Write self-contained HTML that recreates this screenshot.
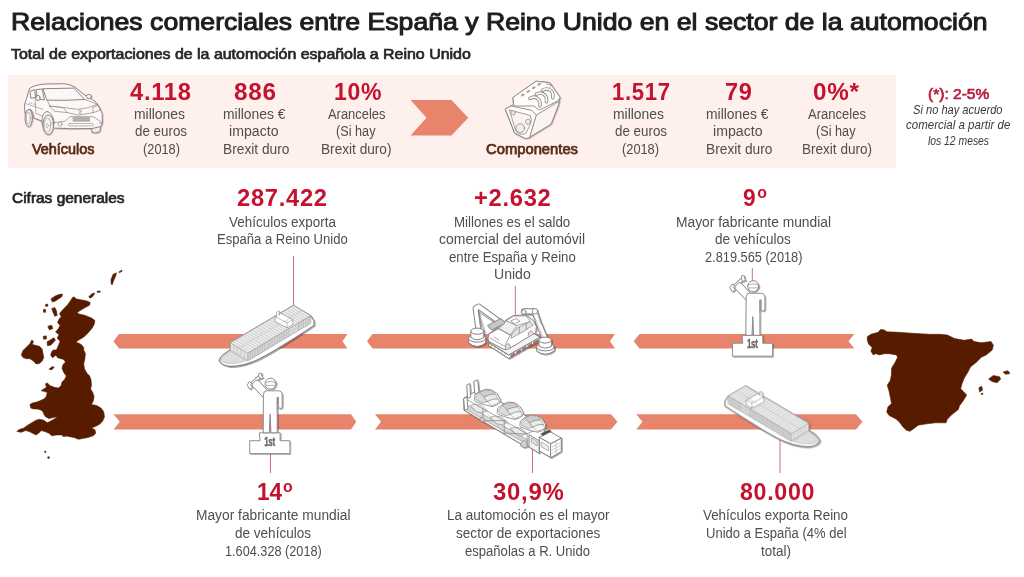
<!DOCTYPE html>
<html lang="es"><head><meta charset="utf-8">
<title>Relaciones comerciales España - Reino Unido</title>
<style>
html,body{margin:0;padding:0;background:#fff}
body{width:1024px;height:577px;position:relative;overflow:hidden;font-family:"Liberation Sans",sans-serif}
#band{position:absolute;left:7.5px;top:74.5px;width:888.5px;height:93px;background:#fef0ec}
#gfx{position:absolute;left:0;top:0;width:1024px;height:577px}
.t{position:absolute;white-space:nowrap;line-height:1;transform-origin:0 0;margin:0}
.T{font-weight:normal;color:#1d1d1b;-webkit-text-stroke:1px #1d1d1b}
.S{font-weight:normal;color:#262626;-webkit-text-stroke:0.7px #262626}
.L{font-weight:normal;color:#5b2c17;-webkit-text-stroke:0.75px #5b2c17}
.N{font-weight:bold;color:#c4122f}
.R{font-weight:normal;color:#b8213f;-webkit-text-stroke:0.7px #b8213f}
.B{color:#4e4e4d}
.I{font-style:italic;color:#3a3a3a}
</style></head><body>
<div id="band"></div>
<svg id="gfx" viewBox="0 0 1024 577" width="1024" height="577">
<g fill="#e8846b">
<polygon points="113.5,341.3 119,334.0 347.5,334.0 342.5,341.3 347.5,348.6 119,348.6"/>
<polygon points="367,341.3 372.5,334.0 615,334.0 610,341.3 615,348.6 372.5,348.6"/>
<polygon points="633.75,341.3 639.5,334.0 854.25,334.0 848.5,341.3 854.25,348.6 639.5,348.6"/>
<polygon points="113.5,414.2 351,414.2 356.25,421.85 351,429.5 113.5,429.5 119.75,421.85"/>
<polygon points="375,414.2 611,414.2 617.5,421.85 611,429.5 375,429.5 381,421.85"/>
<polygon points="636.25,414.2 856,414.2 862.5,421.85 856,429.5 636.25,429.5 642.5,421.85"/>
<polygon points="410.5,100 451.5,100 468.2,117.8 451.5,135.6 410.5,135.6 426.5,117.8"/>
</g>
<g stroke="#cc727c" stroke-width="1" fill="none">
<line x1="293.5" y1="256" x2="293.5" y2="306"/>
<line x1="515.3" y1="286" x2="515.3" y2="314.5"/>
<line x1="752.3" y1="268" x2="752.3" y2="281"/>
<line x1="270.5" y1="454" x2="270.5" y2="473"/>
<line x1="532.5" y1="449" x2="532.5" y2="473"/>
<line x1="780" y1="440" x2="780" y2="473"/>
</g>
<g fill="#571c00" stroke="#571c00" stroke-width="0.6" stroke-linejoin="round">
<path d="M867.3,336.7 L870.9,334.3 L878.2,332.3 L880.6,329.4 L884.3,329.9 L886.7,331.8 L898.8,332.3 L908.5,333.0 L920.7,333.8 L930.4,334.3 L940.1,334.3 L947.3,335.0 L954.6,338.6 L964.3,340.3 L971.6,339.1 L974.0,341.5 L981.3,342.8 L991.0,341.5 L993.4,345.2 L992.2,350.0 L986.2,354.9 L981.3,357.3 L976.4,362.2 L970.4,367.0 L968.0,371.9 L964.3,377.9 L961.9,384.0 L960.7,388.8 L964.3,392.5 L966.7,394.9 L963.1,401.0 L959.5,405.8 L958.3,409.5 L952.2,414.3 L947.3,419.2 L946.1,422.8 L935.2,422.8 L925.5,424.0 L918.2,425.2 L913.4,428.9 L909.7,431.3 L906.1,430.1 L902.5,426.4 L900.0,422.8 L896.4,419.2 L889.1,415.5 L886.7,411.9 L887.9,407.0 L891.5,403.4 L890.3,397.3 L889.1,391.3 L887.2,385.2 L890.3,380.4 L891.5,374.3 L891.5,368.2 L895.2,362.2 L897.6,357.3 L896.4,354.9 L889.1,353.7 L884.3,353.7 L879.4,354.9 L875.8,353.7 L873.3,354.9 L870.9,351.2 L872.1,347.6 L868.5,344.0 L867.3,340.3Z"/>
<path d="M988.6,379.1 L993.4,375.5 L999.5,376.7 L1000.7,379.1 L997.1,382.8 L992.2,381.6Z"/>
<path d="M1003.1,371.9 L1008.0,370.7 L1009.9,373.6 L1005.6,374.3Z"/>
<path d="M978.9,387.6 L981.8,386.4 L982.5,390.1 L979.6,392.0Z"/>
<path d="M981.3,393.2 L982.8,393.2 L982.8,394.4 L981.3,394.4Z"/>
<path d="M73.5,296.7 L76.7,299.0 L80.9,299.8 L86.8,300.9 L90.2,302.4 L89.6,305.2 L85.2,307.6 L80.6,310.2 L77.1,312.4 L79.0,314.0 L85.2,315.4 L91.5,318.0 L94.9,320.5 L94.3,324.0 L92.3,327.9 L88.4,332.5 L84.5,336.4 L80.9,338.8 L77.8,340.5 L76.2,342.4 L79.0,343.3 L81.8,345.0 L83.7,347.4 L83.7,350.0 L85.4,353.5 L84.9,358.7 L83.7,363.9 L84.5,369.1 L87.1,373.4 L89.7,376.0 L91.1,380.3 L91.5,385.5 L90.6,389.0 L92.8,392.5 L94.1,396.8 L93.2,401.1 L91.5,404.6 L96.7,405.5 L101.0,408.1 L103.6,411.5 L104.5,416.7 L102.7,421.1 L99.3,424.5 L95.8,426.3 L91.5,428.0 L94.9,429.7 L95.8,433.2 L93.2,435.8 L88.0,437.5 L82.8,438.4 L78.5,439.3 L74.1,437.5 L69.8,436.7 L65.5,435.8 L62.0,434.9 L56.8,434.9 L51.6,435.8 L49.0,433.2 L44.7,431.5 L41.2,430.6 L38.6,433.2 L36.0,434.9 L32.5,433.2 L29.1,431.5 L25.6,430.6 L21.3,432.3 L16.9,431.5 L18.7,429.7 L23.9,428.0 L27.3,425.4 L31.7,422.8 L36.0,420.2 L39.5,419.3 L43.8,420.2 L47.3,422.8 L50.7,421.1 L55.1,418.5 L57.7,416.7 L53.3,417.6 L49.0,418.5 L45.5,416.7 L43.8,414.1 L42.9,411.5 L40.3,409.8 L36.9,408.9 L33.4,408.9 L30.8,408.1 L29.9,404.6 L32.5,402.9 L36.9,402.0 L41.2,400.3 L44.7,398.5 L46.4,395.9 L47.3,392.5 L44.7,391.6 L41.2,390.7 L43.8,389.0 L46.4,387.3 L45.5,383.8 L47.3,382.9 L49.9,385.5 L54.2,387.3 L58.5,388.1 L61.1,385.5 L62.0,382.1 L64.6,379.5 L66.3,376.0 L63.7,372.5 L62.0,368.2 L62.9,364.7 L65.5,362.1 L63.7,359.5 L61.1,358.7 L57.7,357.8 L55.9,355.2 L52.5,357.8 L50.7,355.2 L51.6,351.7 L53.3,350.0 L56.4,350.0 L58.4,345.5 L60.0,341.4 L57.2,338.0 L59.0,334.6 L55.6,332.1 L58.4,328.6 L60.0,325.5 L57.5,322.4 L59.0,319.3 L61.2,316.5 L59.5,313.8 L61.8,310.7 L65.0,307.6 L67.8,304.5 L70.4,300.9 L72.0,298.2Z"/>
<path d="M21.3,354.9 L23.0,350.6 L26.5,347.1 L29.9,343.7 L31.7,340.2 L33.4,341.1 L32.5,344.5 L36.0,345.4 L39.5,346.3 L42.1,348.9 L42.9,353.2 L43.8,357.5 L42.1,361.0 L39.5,363.6 L36.0,363.9 L33.4,361.0 L29.9,358.7 L26.5,358.7 L23.0,357.5Z"/>
<path d="M50.9,299.0 L54.8,296.2 L58.7,294.6 L62.6,294.0 L61.8,296.7 L58.4,299.0 L55.6,300.9 L52.5,302.1Z"/>
<path d="M45.5,304.5 L47.8,304.1 L47.8,306.3 L45.6,306.3Z"/>
<path d="M43.4,309.6 L45.5,309.3 L45.6,312.3 L43.6,312.3Z"/>
<path d="M51.7,308.4 L54.8,307.6 L56.4,310.7 L57.2,315.4 L54.8,316.2 L53.3,313.0Z"/>
<path d="M47.8,326.3 L51.7,325.2 L52.8,328.6 L49.4,329.9Z"/>
<path d="M43.1,336.4 L46.2,335.8 L46.6,338.8 L43.7,339.3Z"/>
<path d="M47.0,341.9 L54.0,337.7 L55.3,340.3 L50.9,345.0 L47.5,345.8Z"/>
<path d="M88.7,296.7 L92.3,293.5 L94.9,293.1 L93.0,296.2 L90.2,298.2Z"/>
<path d="M97.1,291.2 L100.1,290.9 L100.2,292.3 L97.4,292.4Z"/>
<path d="M111.0,279.5 L113.0,274.4 L116.4,272.8 L115.8,275.6 L113.9,280.0 L112.1,285.0 L111.1,283.4Z"/>
<path d="M118.8,271.9 L121.9,270.1 L122.1,271.2 L119.3,272.8Z"/>
<path d="M49.0,369.1 L52.5,366.5 L54.2,367.3 L51.6,369.9Z"/>
<path d="M62.5,435.1 L65.5,435.3 L65.5,436.5 L62.7,436.3Z"/>
<path d="M44.7,451.2 L45.9,451.2 L45.9,452.4 L44.7,452.4Z"/>
<path d="M47.8,456.8 L49.3,456.8 L49.3,458.3 L47.8,458.3Z"/>
</g>
<g filter="url(#ds2)">
<defs><filter id="ds2" x="-10%" y="-10%" width="125%" height="125%"><feDropShadow dx="0.6" dy="0.7" stdDeviation="0.5" flood-color="#5a2a20" flood-opacity="0.30"/></filter></defs>
<g transform="translate(18,78) scale(0.1074)" stroke-linejoin="round" stroke-linecap="round" stroke="#7f7b79" stroke-width="8.5" fill="#fdf8f7">
  <!-- rear wheel -->
  <ellipse cx="100" cy="372" rx="34" ry="82" fill="#f3eeec"/>
  <ellipse cx="96" cy="374" rx="18" ry="56" fill="#fdf8f7" stroke-width="5"/>
  <!-- right front wheel (partial) -->
  <path d="M684,440 L688,505 Q720,520 762,500 L772,440Z" fill="#f3eeec"/>
  <!-- body silhouette -->
  <path d="M110,96 Q150,64 250,56 L430,54 Q490,60 530,86 L604,146 L650,176 Q700,200 730,232 Q765,272 784,330 L786,410 Q784,440 770,452 L690,470 L500,472 L340,466 Q300,440 230,450 L222,402 L150,372 Q140,300 110,290 Q84,290 66,330 L60,272 Q64,220 78,196 Z"/>
  <!-- front-left wheel -->
  <ellipse cx="282" cy="436" rx="50" ry="92" fill="#f3eeec"/>
  <ellipse cx="274" cy="440" rx="30" ry="66" fill="#fdf8f7" stroke-width="5"/>
  <ellipse cx="272" cy="442" rx="10" ry="22" fill="none" stroke-width="4"/>
  <!-- wheel arch -->
  <path d="M222,402 Q224,318 270,312 Q318,316 340,420" fill="none"/>
  <!-- windshield -->
  <path d="M236,100 L520,94 L622,200 Q450,212 272,206Z" fill="#fdf8f7"/>
  <!-- side windows -->
  <path d="M172,108 L226,102 L246,204 L184,196Z"/>
  <path d="M116,124 L154,106 L164,184 L122,186Z"/>
  <ellipse cx="186" cy="186" rx="20" ry="24"/>
  <ellipse cx="660" cy="172" rx="24" ry="20"/>
  <!-- hood lines -->
  <path d="M272,206 L298,262 M622,200 Q690,220 736,246" fill="none" stroke-width="6"/>
  <path d="M296,262 Q420,272 560,292 Q650,284 736,246" fill="none" stroke-width="6"/>
  <!-- headlights -->
  <path d="M296,262 L420,276 L458,322 L342,310Z" stroke-width="6"/>
  <path d="M700,272 L746,254 L764,300 L702,322Z" stroke-width="6"/>
  <!-- grille V + emblem -->
  <path d="M458,322 L560,346 L702,322" fill="none" stroke-width="6"/>
  <ellipse cx="578" cy="312" rx="10" ry="24" stroke-width="5" stroke="#8a7a78"/>
  <!-- plate -->
  <rect x="516" y="370" width="150" height="32" fill="#b9b3b1" stroke-width="5"/>
  <!-- bumper -->
  <path d="M312,420 L440,402 L482,360 L700,360 L764,402" fill="none" stroke-width="6"/>
  <rect x="470" y="424" width="232" height="22" rx="10" stroke-width="5"/>
  <circle cx="392" cy="430" r="19" stroke-width="6"/>
  <circle cx="770" cy="418" r="10" stroke-width="5"/>
  <!-- door / crease -->
  <path d="M160,186 L166,332 L224,352 M76,240 L232,292 M106,232 L128,236 M146,242 L166,246" fill="none" stroke-width="5"/>
</g>
</g>

<g filter="url(#ds2)">
<g transform="translate(496,76) scale(0.11442)" stroke-linejoin="round" stroke-linecap="round" stroke="#8b8886" stroke-width="8" fill="#fffdfc">
  <!-- silhouette -->
  <path d="M84,288 L128,262 L152,250 L150,186 L350,46 L470,58 L560,186 L548,250 L482,420 L300,532 L256,546 L166,500Z"/>
  <!-- right side -->
  <path d="M352,342 L548,222 L548,250 L482,420 L300,532 L292,540Z" fill="#fbf3f1"/>
  <!-- top plate -->
  <path d="M150,186 L350,46 L470,58 L560,186 L542,216 L380,298 L330,262 L160,262Z"/>
  <!-- manifold pipes -->
  <g fill="none">
    <path d="M296,196 Q340,170 372,204 Q392,226 384,262" stroke-width="30"/>
    <path d="M352,160 Q396,134 428,168 Q448,190 440,226" stroke-width="30"/>
    <path d="M408,124 Q452,98 484,132 Q504,154 496,190" stroke-width="30"/>
    <path d="M296,196 Q340,170 372,204 Q392,226 384,262" stroke="#fdf9f8" stroke-width="15"/>
    <path d="M352,160 Q396,134 428,168 Q448,190 440,226" stroke="#fdf9f8" stroke-width="15"/>
    <path d="M408,124 Q452,98 484,132 Q504,154 496,190" stroke="#fdf9f8" stroke-width="15"/>
  </g>
  <path d="M440,70 L486,76 L470,100" fill="none" stroke-width="7"/>
  <!-- dots -->
  <g fill="#9d9896" stroke="none">
    <ellipse cx="234" cy="166" rx="17" ry="9" transform="rotate(-32 234 166)"/>
    <ellipse cx="282" cy="134" rx="17" ry="9" transform="rotate(-32 282 134)"/>
    <ellipse cx="330" cy="102" rx="17" ry="9" transform="rotate(-32 330 102)"/>
    <ellipse cx="378" cy="72" rx="17" ry="9" transform="rotate(-32 378 72)"/>
  </g>
  <!-- front face -->
  <path d="M84,288 L130,262 L312,300 L352,342 L292,540 L256,546 L166,500Z"/>
  <path d="M120,298 L298,344 Q320,380 300,424 L262,500 Q218,524 178,490Z" fill="#fbf3f1" stroke-width="7"/>
  <circle cx="150" cy="322" r="19" fill="#efe9e7" stroke-width="6"/>
  <circle cx="280" cy="400" r="22" fill="#efe9e7" stroke-width="6"/>
  <circle cx="212" cy="456" r="38" fill="#f3eeec" stroke-width="7"/>
</g>
</g>

<defs>
<filter id="ds" x="-10%" y="-10%" width="125%" height="125%"><feDropShadow dx="0.9" dy="0.9" stdDeviation="0.45" flood-color="#000" flood-opacity="0.38"/></filter>
<g id="shipg" stroke-linejoin="round" stroke-linecap="round">
<path d="M92,388 C96,370 120,350 146,336 L146,302 L449,122 L532,172 L548,196 L548,218 C500,252 420,300 373,330 C320,362 280,385 243,397 C200,412 170,416 146,415 C120,413 100,404 92,388Z" fill="#fff" stroke="#828282" stroke-width="5.5"/>
<path d="M100,386 C104,371 125,354 146,342 L222,388 L190,398 C158,404 124,402 108,394Z" fill="#dedede" stroke="#aaa" stroke-width="2.5"/>
<path d="M146.0,302.0 L449.0,122.0 L532.0,172.0 L230.0,352.0Z" fill="#ececec" stroke="#999" stroke-width="3"/>
<path d="M230.0,352.0 L532.0,172.0 L532.0,208.0 L230.0,388.0Z" fill="#d9d9d9" stroke="#999" stroke-width="3"/>
<path d="M146.0,302.0 L230.0,352.0 L230.0,388.0 L146.0,338.0Z" fill="#e2e2e2" stroke="#999" stroke-width="3"/>
<path d="M157.7,295.1 L241.6,345.1 M169.3,288.2 L253.2,338.2 M181.0,281.2 L264.8,331.2 M192.6,274.3 L276.5,324.3 M204.3,267.4 L288.1,317.4 M215.9,260.5 L299.7,310.5 M227.6,253.5 L311.3,303.5 M239.2,246.6 L322.9,296.6 M250.9,239.7 L334.5,289.7 M262.5,232.8 L346.2,282.8 M274.2,225.8 L357.8,275.8 M285.8,218.9 L369.4,268.9 M297.5,212.0 L381.0,262.0 M309.2,205.1 L392.6,255.1 M320.8,198.2 L404.2,248.2 M332.5,191.2 L415.8,241.2 M344.1,184.3 L427.5,234.3 M390.7,156.6 L473.9,206.6 M402.4,149.7 L485.5,199.7 M414.0,142.8 L497.2,192.8 M425.7,135.8 L508.8,185.8 M437.3,128.9 L520.4,178.9" stroke="#b2b2b2" stroke-width="2.4" fill="none"/>
<path d="M241.6,345.1 L241.6,381.1 M253.2,338.2 L253.2,374.2 M264.8,331.2 L264.8,367.2 M276.5,324.3 L276.5,360.3 M288.1,317.4 L288.1,353.4 M299.7,310.5 L299.7,346.5 M311.3,303.5 L311.3,339.5 M322.9,296.6 L322.9,332.6 M334.5,289.7 L334.5,325.7 M346.2,282.8 L346.2,318.8 M357.8,275.8 L357.8,311.8 M369.4,268.9 L369.4,304.9 M381.0,262.0 L381.0,298.0 M392.6,255.1 L392.6,291.1 M404.2,248.2 L404.2,284.2 M415.8,241.2 L415.8,277.2 M427.5,234.3 L427.5,270.3 M473.9,206.6 L473.9,242.6 M485.5,199.7 L485.5,235.7 M497.2,192.8 L497.2,228.8 M508.8,185.8 L508.8,221.8 M520.4,178.9 L520.4,214.9" stroke="#a8a8a8" stroke-width="2.6" fill="none"/>
<path d="M162.8,312.0 L162.8,348.0 M179.6,322.0 L179.6,358.0 M196.4,332.0 L196.4,368.0 M213.2,342.0 L213.2,378.0" stroke="#b0b0b0" stroke-width="2.2" fill="none"/>
<path d="M188.0,327.0 L490.5,147.0 M230.0,370.0 L532.0,190.0" stroke="#b8b8b8" stroke-width="2" fill="none"/>
<path d="M362,176 L390,160 L446,190 L446,214 L418,230 L362,200Z" fill="#fff" stroke="#8a8a8a" stroke-width="3.2"/>
<path d="M362,176 L418,206 L446,190 M418,206 L418,230" fill="none" stroke="#8a8a8a" stroke-width="2.6"/>
<path d="M368,178 L368,154 L380,148 L380,170" fill="#fff" stroke="#8a8a8a" stroke-width="2.8"/>
<path d="M398,204 L436,183" stroke="#9a9a9a" stroke-width="2.2" fill="none"/>
</g></defs>
<g filter="url(#ds)">
<use href="#shipg" transform="translate(200,280) scale(0.20807)"/>
<use href="#shipg" transform="translate(839,360.4) scale(-0.20807,0.20807)"/>
</g>
<g filter="url(#ds)">
<g transform="translate(460,298) scale(0.11442)" stroke-linejoin="round" stroke-linecap="round" stroke="#7e7e7e" stroke-width="8.5" fill="#fff">
  <!-- platform -->
  <path d="M255,392 L425,498 L700,342 L700,368 L425,528 L255,418Z"/>
  <path d="M255,392 L425,498 L700,342 L560,262 Z" fill="#f4f4f4"/>
  <g fill="#b3675a" stroke="#777" stroke-width="5">
    <path d="M445,498 L478,479 L478,500 L445,519Z"/><path d="M495,470 L528,451 L528,472 L495,491Z"/>
    <path d="M545,441 L578,422 L578,443 L545,462Z"/><path d="M595,413 L628,394 L628,415 L595,434Z"/>
    <path d="M645,384 L678,365 L678,386 L645,405Z"/>
  </g>
  <path d="M275,418 L275,402 M305,437 L305,421 M335,456 L335,440 M365,476 L365,460 M395,495 L395,479" stroke-width="5" fill="none"/>
  <!-- robot 1 arm (behind panel) -->
  <path d="M160,262 L136,92 L162,74 L335,200" fill="none" stroke-width="52"/>
  <path d="M160,262 L136,92 L162,74 L335,200" fill="none" stroke="#fff" stroke-width="36"/>
  <path d="M176,238 L160,118 L300,214 M160,118 L215,300" fill="none" stroke-width="6" stroke="#8a8a8a"/>
  <!-- robot 1 base -->
  <path d="M75,352 L75,392 Q150,455 225,392 L225,352Z"/>
  <ellipse cx="150" cy="352" rx="75" ry="34"/>
  <path d="M95,290 L95,345 Q150,385 208,345 L208,290Z"/>
  <ellipse cx="151" cy="290" rx="57" ry="27"/>
  <!-- car body -->
  <path d="M245,352 L252,312 L335,262 L405,190 L468,152 L578,150 L642,200 L668,250 L662,302 L425,446 L385,450 L255,382Z"/>
  <!-- side glass -->
  <path d="M448,348 L452,318 L500,262 L615,205 L640,236 L562,288Z" fill="#e4e4e4" stroke-width="6"/>
  <path d="M520,256 L516,310 M578,224 L580,278" fill="none" stroke-width="6"/>
  <!-- windshield -->
  <path d="M342,268 L405,196 L500,240 L440,322Z" fill="#efefef" stroke-width="6"/>
  <!-- roof / sunroof -->
  <path d="M405,196 L468,158 L575,156 L615,205 L500,240Z" fill="#fbfbfb" stroke-width="6"/>
  <path d="M448,198 L492,180 L524,204 L478,224Z" fill="#fff" stroke-width="6"/>
  <!-- hood & front -->
  <path d="M252,314 L342,268 L440,322 L425,352 L390,420" fill="none" stroke-width="6"/>
  <path d="M262,350 L385,420 M300,345 L340,368" fill="none" stroke-width="6"/>
  <!-- wheels -->
  <path d="M396,446 Q392,410 418,398 Q440,400 442,432" fill="#ddd" stroke-width="6"/>
  <path d="M596,328 Q594,296 616,286 Q636,290 638,306" fill="#ddd" stroke-width="6"/>
  <!-- panel held by robot 1 -->
  <path d="M244,238 L352,182 Q362,180 368,188 L390,214 Q392,222 384,226 L282,278 Q274,280 268,272 L244,246Z" fill="#c6c6c6" stroke="#808080" stroke-width="8"/>
  <!-- robot 2 arm -->
  <path d="M742,352 L690,228 L652,118 L560,118" fill="none" stroke-width="56"/>
  <path d="M742,352 L690,228 L652,118 L560,118" fill="none" stroke="#fff" stroke-width="40"/>
  <path d="M725,340 L672,218 L640,136 L565,134 M706,228 L664,108" fill="none" stroke-width="5" stroke="#9a9a9a"/>
  <circle cx="655" cy="116" r="24" stroke-width="7"/>
  <circle cx="558" cy="122" r="20" stroke-width="7"/>
  <!-- robot 2 base -->
  <path d="M668,428 L668,462 Q745,520 825,462 L825,428Z"/>
  <ellipse cx="746" cy="428" rx="78" ry="34"/>
  <path d="M690,368 L690,420 Q745,455 800,420 L800,368Z"/>
  <ellipse cx="745" cy="368" rx="55" ry="26"/>
</g>
</g>

<defs>
<g id="tcar" stroke-linejoin="round" stroke="#7c7c7c" stroke-width="5">
  <path d="M94,166 L98,140 L128,116 L168,100 L206,104 L240,126 L262,160 L264,186 L240,204 L210,214 L150,198 L104,182Z" fill="#fff"/>
  <path d="M130,120 L168,104 L204,108 L232,132 L196,136 L160,150Z" fill="#cdcdcd" stroke-width="3.4"/>
  <path d="M160,150 L196,136 L232,132 L250,164 L214,166 L180,180Z" fill="#e9e9e9" stroke-width="3.4"/>
  <path d="M104,150 L128,122 L158,152 L176,182 L150,190 L108,170Z" fill="#dcdcdc" stroke-width="3.4"/>
  <path d="M180,180 L214,166 L250,164 L258,188 L212,208Z" fill="#f6f6f6" stroke-width="3.4"/>
</g>
</defs>
<g filter="url(#ds)">
<g transform="translate(460,374) scale(0.15256)" stroke-linejoin="round" stroke-linecap="round" stroke="#7c7c7c" stroke-width="6" fill="#fff">
  <!-- trailer body silhouette -->
  <path d="M28,158 L118,104 L552,338 L552,420 L470,478 L420,470 L28,238Z"/>
  <!-- lower deck shading -->
  <path d="M40,200 L440,430 L440,462 L40,232Z" fill="#d9d9d9" stroke-width="3.5"/>
  <!-- lower deck cars hints -->
  <g fill="#ececec" stroke-width="3.5">
    <path d="M70,205 Q100,190 140,205 L180,240 Q150,262 110,248Z"/>
    <path d="M200,282 Q232,266 272,282 L312,316 Q284,340 240,326Z"/>
    <path d="M330,356 Q360,340 400,356 L436,388 Q410,412 370,398Z"/>
  </g>
  <!-- frame posts -->
  <path d="M28,158 L440,392 L552,338 M440,392 L440,470 M150,226 L150,306 M290,306 L290,388 M290,306 L150,306 M440,392 L290,388" fill="none" stroke-width="4.5"/>
  <path d="M150,226 L290,388 M290,306 L440,470" fill="none" stroke-width="3" stroke="#a5a5a5"/>
  <!-- rear ramps -->
  <path d="M46,72 L64,62 L70,150 L52,160Z"/><path d="M92,48 L116,38 L124,120 L100,132Z"/>
  <path d="M26,160 L46,150 L52,228 L32,238Z"/>
  <!-- cars on top deck -->
  <use href="#tcar"/>
  <use href="#tcar" transform="translate(150,84)"/>
  <use href="#tcar" transform="translate(298,168)"/>
  <!-- wheels -->
  <path d="M398,470 Q396,440 420,436 Q440,440 442,474 Q420,492 398,470Z" fill="#d0d0d0" stroke-width="4"/>
  <path d="M128,300 Q128,284 146,284 Q162,288 164,312 Q146,322 128,300Z" fill="#d0d0d0" stroke-width="4"/>
  <!-- cab -->
  <path d="M452,400 L452,478 L520,520 L520,440Z" fill="#f2f2f2"/>
  <path d="M522,414 L596,456 L596,548 L522,505Z"/>
  <path d="M596,456 L664,420 L664,508 L596,548Z"/>
  <path d="M522,414 L590,378 L664,420 L596,456Z"/>
  <path d="M530,392 L584,366 L598,376 L544,404Z" fill="#555" stroke="#555" stroke-width="3"/>
  <path d="M604,478 L656,450 M604,498 L656,470 M604,518 L656,490 M630,448 L630,524" fill="none" stroke-width="3.5" stroke="#a0a0a0"/>
  <path d="M534,446 L580,472 L580,504 L534,478Z" fill="#ececec" stroke-width="3.5"/>
  <path d="M470,420 L506,442 L506,470 L470,448Z" fill="#e2e2e2" stroke-width="3.5"/>
</g>
</g>

<defs>
<g id="workerg" stroke-linejoin="round" stroke-linecap="round" stroke="#8a8a8a" stroke-width="4.6" fill="#fff">
  <!-- podium -->
  <path d="M300,362 L398,362 L398,400 L445,400 L445,462 L252,462 L252,400 L300,400Z"/>
  <!-- wrench -->
  <path d="M254,134 L302,90" stroke-width="19" stroke="#8a8a8a" fill="none"/>
  <path d="M254,134 L302,90" stroke-width="10" stroke="#fff" fill="none"/>
  <path d="M240,132 L250,116 L262,122 L256,132 L266,142 L254,152Z" />
  <path d="M294,88 L298,74 L312,78 L308,88 L318,96 L306,102Z" />
  <!-- raised arm -->
  <path d="M319,194 L266,138 Q261,130 268,123 L281,111 Q289,106 296,113 L338,160Z"/>
  <!-- torso + right arm + legs -->
  <path d="M318,176 Q318,160 334,160 L388,160 Q408,160 408,180 L408,236 Q408,245 399,245 Q390,245 390,236 L390,192 L384,192 L384,362 L354,362 L350,272 L346,362 L318,362Z"/>
  <path d="M384,192 L384,250" fill="none" stroke-width="3.4"/>
  <!-- head -->
  <circle cx="352" cy="126" r="26.5"/>
  <path d="M327,120 Q352,108 378,120" fill="none" stroke-width="3.4"/>
  <path d="M331,134 L374,134" fill="none" stroke-width="3"/>
  <text x="0" y="0" transform="translate(322,424) scale(0.6,1)" font-family="Liberation Sans, sans-serif" font-weight="bold" font-size="64" fill="#6c6c6c" stroke="#6c6c6c" stroke-width="2.2" letter-spacing="-3">1st</text>
</g>
</defs>
<g filter="url(#ds)">
<use href="#workerg" transform="translate(680,260) scale(0.20807)"/>
<use href="#workerg" transform="translate(197.3,357.5) scale(0.20807)"/>
</g>

</svg>
<h1 class="t T" style="left:10.90px;top:10px;font-size:23.8px;transform:scaleX(1.1185)">Relaciones comerciales entre España y Reino Unido en el sector de la automoción</h1>
<h2 class="t S" style="left:11.20px;top:47px;font-size:14.8px;transform:scaleX(1.0770)">Total de exportaciones de la automoción española a Reino Unido</h2>
<h2 class="t S" style="left:12.00px;top:191px;font-size:14.8px;transform:scaleX(1.0441)">Cifras generales</h2>
<div class="t L" style="left:32.00px;top:142px;font-size:14.8px;transform:scaleX(0.9739)">Vehículos</div>
<div class="t L" style="left:486.00px;top:142px;font-size:14.8px;transform:scaleX(0.9985)">Componentes</div>
<div class="t N" style="left:130.00px;top:81px;font-size:23px;letter-spacing:0.700px;transform:scaleX(1.0322)">4.118</div>
<div class="t N" style="left:234.00px;top:81px;font-size:23px;letter-spacing:0.700px;transform:scaleX(1.0559)">886</div>
<div class="t N" style="left:333.50px;top:81px;font-size:23px;letter-spacing:0.700px;transform:scaleX(1.0011)">10%</div>
<div class="t N" style="left:611.50px;top:81px;font-size:23px;letter-spacing:0.700px;transform:scaleX(0.9609)">1.517</div>
<div class="t N" style="left:724.50px;top:81px;font-size:23px;letter-spacing:0.700px;transform:scaleX(1.0269)">79</div>
<div class="t N" style="left:813.00px;top:81px;font-size:23px;letter-spacing:0.700px;transform:scaleX(1.0550)">0%*</div>
<div class="t B" style="left:134.00px;top:107px;font-size:14px;transform:scaleX(0.9930)">millones</div>
<div class="t B" style="left:135.00px;top:124px;font-size:14px;transform:scaleX(0.9544)">de euros</div>
<div class="t B" style="left:142.50px;top:142px;font-size:14px;transform:scaleX(0.9143)">(2018)</div>
<div class="t B" style="left:223.00px;top:107px;font-size:14px;transform:scaleX(0.9916)">millones €</div>
<div class="t B" style="left:229.00px;top:124px;font-size:14px;transform:scaleX(1.0096)">impacto</div>
<div class="t B" style="left:222.50px;top:142px;font-size:14px;transform:scaleX(0.9822)">Brexit duro</div>
<div class="t B" style="left:328.00px;top:107px;font-size:14px;transform:scaleX(0.9235)">Aranceles</div>
<div class="t B" style="left:335.50px;top:124px;font-size:14px;transform:scaleX(0.9064)">(Si hay</div>
<div class="t B" style="left:321.00px;top:142px;font-size:14px;transform:scaleX(0.9743)">Brexit duro)</div>
<div class="t B" style="left:613.00px;top:107px;font-size:14px;transform:scaleX(0.9930)">millones</div>
<div class="t B" style="left:614.50px;top:124px;font-size:14px;transform:scaleX(0.9544)">de euros</div>
<div class="t B" style="left:621.50px;top:142px;font-size:14px;transform:scaleX(0.9143)">(2018)</div>
<div class="t B" style="left:706.00px;top:107px;font-size:14px;transform:scaleX(0.9916)">millones €</div>
<div class="t B" style="left:712.50px;top:124px;font-size:14px;transform:scaleX(1.0096)">impacto</div>
<div class="t B" style="left:706.00px;top:142px;font-size:14px;transform:scaleX(0.9822)">Brexit duro</div>
<div class="t B" style="left:808.00px;top:107px;font-size:14px;transform:scaleX(0.9315)">Aranceles</div>
<div class="t B" style="left:815.50px;top:124px;font-size:14px;transform:scaleX(0.9064)">(Si hay</div>
<div class="t B" style="left:802.00px;top:142px;font-size:14px;transform:scaleX(0.9674)">Brexit duro)</div>
<div class="t R" style="left:927.60px;top:86px;font-size:15.5px;transform:scaleX(1.0024)">(*): 2-5%</div>
<div class="t I" style="left:913.30px;top:105px;font-size:11.9px;transform:scaleX(0.9337)">Si no hay acuerdo</div>
<div class="t I" style="left:906.40px;top:120px;font-size:11.9px;transform:scaleX(0.9692)">comercial a partir de</div>
<div class="t I" style="left:927.60px;top:136px;font-size:11.9px;transform:scaleX(0.8707)">los 12 meses</div>
<div class="t N" style="left:236.75px;top:187px;font-size:23.2px;letter-spacing:0.700px;transform:scaleX(1.0224)">287.422</div>
<div class="t N" style="left:473.50px;top:187px;font-size:23.2px;letter-spacing:0.700px;transform:scaleX(1.0223)">+2.632</div>
<div class="t N" style="left:743.00px;top:187px;font-size:23.2px;letter-spacing:0.700px;transform:scaleX(0.9785)">9<span style="font-size:0.7em;position:relative;top:-7.6px;margin-left:1px;line-height:0">o</span></div>
<div class="t N" style="left:256.75px;top:481px;font-size:23.2px;transform:scaleX(0.9736)">14<span style="font-size:0.7em;position:relative;top:-7.6px;margin-left:1px;line-height:0">o</span></div>
<div class="t N" style="left:492.75px;top:481px;font-size:23.2px;letter-spacing:0.700px;transform:scaleX(1.0321)">30,9%</div>
<div class="t N" style="left:740.00px;top:481px;font-size:23.2px;letter-spacing:0.700px;transform:scaleX(1.0010)">80.000</div>
<div class="t B" style="left:228.50px;top:215px;font-size:14px;transform:scaleX(0.9614)">Vehículos exporta</div>
<div class="t B" style="left:216.75px;top:232px;font-size:14px;transform:scaleX(0.9332)">España a Reino Unido</div>
<div class="t B" style="left:454.00px;top:215px;font-size:14px;transform:scaleX(0.9515)">Millones es el saldo</div>
<div class="t B" style="left:438.50px;top:232px;font-size:14px;transform:scaleX(0.9980)">comercial del automóvil</div>
<div class="t B" style="left:448.50px;top:250px;font-size:14px;transform:scaleX(0.9414)">entre España y Reino</div>
<div class="t B" style="left:493.50px;top:267px;font-size:14px;transform:scaleX(1.0043)">Unido</div>
<div class="t B" style="left:675.50px;top:215px;font-size:14px;transform:scaleX(0.9861)">Mayor fabricante mundial</div>
<div class="t B" style="left:715.00px;top:232px;font-size:14px;transform:scaleX(0.9636)">de vehículos</div>
<div class="t B" style="left:704.50px;top:250px;font-size:14px;transform:scaleX(0.9143)">2.819.565 (2018)</div>
<div class="t B" style="left:195.50px;top:508px;font-size:14px;transform:scaleX(0.9829)">Mayor fabricante mundial</div>
<div class="t B" style="left:235.00px;top:526px;font-size:14px;transform:scaleX(0.9668)">de vehículos</div>
<div class="t B" style="left:225.00px;top:544px;font-size:14px;transform:scaleX(0.9073)">1.604.328 (2018)</div>
<div class="t B" style="left:446.50px;top:508px;font-size:14px;transform:scaleX(0.9667)">La automoción es el mayor</div>
<div class="t B" style="left:456.00px;top:526px;font-size:14px;transform:scaleX(0.9705)">sector de exportaciones</div>
<div class="t B" style="left:465.25px;top:544px;font-size:14px;transform:scaleX(0.9337)">españolas a R. Unido</div>
<div class="t B" style="left:703.00px;top:508px;font-size:14px;transform:scaleX(0.9554)">Vehículos exporta Reino</div>
<div class="t B" style="left:705.50px;top:526px;font-size:14px;transform:scaleX(0.9321)">Unido a España (4% del</div>
<div class="t B" style="left:761.25px;top:544px;font-size:14px;transform:scaleX(0.9639)">total)</div>
</body></html>
